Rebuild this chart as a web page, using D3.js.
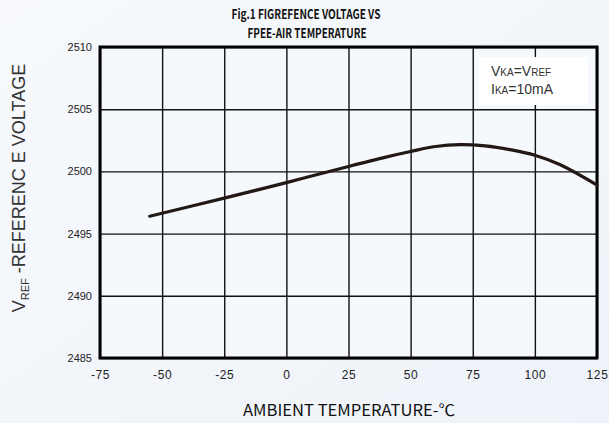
<!doctype html>
<html>
<head>
<meta charset="utf-8">
<script src="https://d3js.org/d3.v7.min.js"></script>
<style>
  body { margin: 0; background: #f4f7fb; }
  svg { display: block; }
  .tick text { font-family: "Liberation Sans", Arial, sans-serif; fill: #222; }
</style>
</head>
<body>
<svg width="609" height="423"></svg>
<script>
// curve
var temps = [-55, -25, 0, 25, 40, 50, 60, 70, 80, 90, 100, 110, 125];
var volts = [2496.4, 2497.85, 2499.1, 2500.4, 2501.15, 2501.6, 2502.0, 2502.15, 2502.05, 2501.75, 2501.3, 2500.55, 2498.9];
var xTicks = [-75, -50, -25, 0, 25, 50, 75, 100, 125];
var yTicks = [2485, 2490, 2495, 2500, 2505, 2510];

var data = temps.map(function(t, i) { return { t: t, v: volts[i] }; });

var svg = d3.select("svg");
var pLeft = 100, pRight = 597, pTop = 47, pBottom = 358;

var bg = svg.append("defs").append("linearGradient")
    .attr("id", "bg").attr("x1", 0).attr("y1", 0).attr("x2", 1).attr("y2", 1);
bg.append("stop").attr("offset", "0%").attr("stop-color", "#f7f9fc");
bg.append("stop").attr("offset", "100%").attr("stop-color", "#eef3f9");
svg.append("rect").attr("width", 609).attr("height", 423).attr("fill", "url(#bg)");

var x = d3.scaleLinear().domain([-75, 125]).range([pLeft, pRight]);
var y = d3.scaleLinear().domain([2485, 2510]).range([pBottom, pTop]);

svg.append("rect")
   .attr("x", pLeft).attr("y", pTop)
   .attr("width", pRight - pLeft).attr("height", pBottom - pTop)
   .attr("fill", "#f5f9fd");

// grid
svg.append("g")
   .attr("transform", "translate(0," + pBottom + ")")
   .call(d3.axisBottom(x).tickValues(xTicks).tickFormat(function(d) { return String(d); })
           .tickSize(-(pBottom - pTop)).tickPadding(12))
   .call(function(g) {
       g.select(".domain").remove();
       g.selectAll("line").attr("stroke", "#111").attr("stroke-width", 1.4);
       g.selectAll("text").attr("font-size", 12).attr("letter-spacing", 0.6);
   });

svg.append("g")
   .attr("transform", "translate(" + pLeft + ",0)")
   .call(d3.axisLeft(y).tickValues(yTicks).tickFormat(function(d) { return String(d); })
           .tickSize(-(pRight - pLeft)).tickPadding(8))
   .call(function(g) {
       g.select(".domain").remove();
       g.selectAll("line").attr("stroke", "#111").attr("stroke-width", 1.4);
       g.selectAll("text").attr("font-size", 11);
   });

// legend box
var lg = svg.append("g");
lg.append("rect").attr("x", 478).attr("y", 57).attr("width", 110).attr("height", 48).attr("fill", "#fff");
var l1 = lg.append("text").attr("x", 491).attr("y", 76)
   .attr("font-family", "Liberation Sans, Arial, sans-serif").attr("font-size", 14).attr("fill", "#333");
l1.append("tspan").text("V");
l1.append("tspan").attr("font-size", 10).text("KA");
l1.append("tspan").text("=V");
l1.append("tspan").attr("font-size", 10).text("REF");
var l2 = lg.append("text").attr("x", 491).attr("y", 94)
   .attr("font-family", "Liberation Sans, Arial, sans-serif").attr("font-size", 14).attr("fill", "#333");
l2.append("tspan").text("I");
l2.append("tspan").attr("font-size", 10).text("KA");
l2.append("tspan").text("=10mA");

// frame
svg.append("rect")
   .attr("x", pLeft).attr("y", pTop)
   .attr("width", pRight - pLeft).attr("height", pBottom - pTop)
   .attr("fill", "none").attr("stroke", "#000").attr("stroke-width", 3);

// curve
var line = d3.line()
   .x(function(d) { return x(d.t); })
   .y(function(d) { return y(d.v); })
   .curve(d3.curveCatmullRom.alpha(0.5));

svg.append("path")
   .datum(data)
   .attr("d", line)
   .attr("fill", "none")
   .attr("stroke", "#231815")
   .attr("stroke-width", 3.2)
   .attr("stroke-linecap", "round");

// titles
var tfont = "'Noto Sans CJK KR', 'Noto Sans', sans-serif";
svg.append("text").attr("x", 306).attr("y", 19)
   .attr("text-anchor", "middle").attr("font-family", tfont).attr("font-weight", "bold")
   .attr("font-size", 13).attr("fill", "#111")
   .attr("textLength", 149).attr("lengthAdjust", "spacingAndGlyphs")
   .text("Fig.1 FIGREFENCE VOLTAGE VS");
svg.append("text").attr("x", 307).attr("y", 38)
   .attr("text-anchor", "middle").attr("font-family", tfont).attr("font-weight", "bold")
   .attr("font-size", 13).attr("fill", "#111")
   .attr("textLength", 119).attr("lengthAdjust", "spacingAndGlyphs")
   .text("FPEE-AIR TEMPERATURE");

svg.append("text").attr("x", 349).attr("y", 416)
   .attr("text-anchor", "middle").attr("font-family", tfont)
   .attr("font-size", 16).attr("fill", "#111")
   .attr("textLength", 212).attr("lengthAdjust", "spacingAndGlyphs")
   .text("AMBIENT TEMPERATURE-℃");

var yt = svg.append("text")
   .attr("transform", "translate(25,188) rotate(-90)")
   .attr("text-anchor", "middle")
   .attr("font-family", "Liberation Sans, Arial, sans-serif")
   .attr("font-size", 18).attr("fill", "#333");
yt.append("tspan").text("V");
yt.append("tspan").attr("font-size", 11).attr("dy", 4).text("REF");
yt.append("tspan").attr("dy", -4).text(" -REFERENC E  VOLTAGE");
</script>
</body>
</html>
